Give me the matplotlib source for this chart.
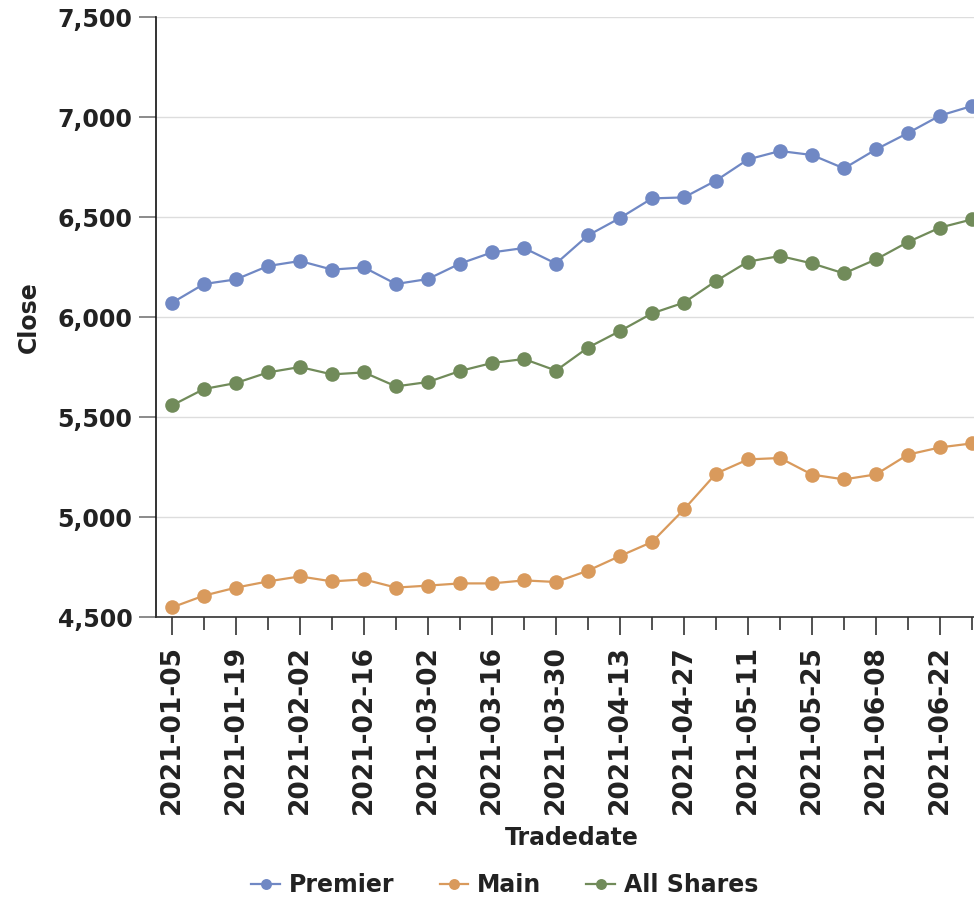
import matplotlib.pyplot as plt
import matplotlib.dates as mdates
import pandas as pd
from matplotlib.ticker import FuncFormatter

# weekly trade dates
tradedates = pd.date_range('2021-01-05', periods=26, freq='7D')

premier = [6071, 6165, 6188, 6255, 6280, 6237, 6248, 6165, 6190, 6267, 6323, 6345, 6267,
           6408, 6495, 6593, 6598, 6682, 6788, 6830, 6810, 6743, 6838, 6920, 7007, 7055]
main = [4548, 4607, 4647, 4678, 4703, 4678, 4688, 4647, 4657, 4668, 4668, 4683, 4675,
        4732, 4805, 4875, 5038, 5217, 5288, 5295, 5212, 5188, 5213, 5312, 5348, 5368]
all_shares = [5558, 5640, 5670, 5723, 5750, 5713, 5723, 5653, 5675, 5730, 5770, 5790, 5732,
              5847, 5930, 6018, 6072, 6180, 6277, 6305, 6268, 6218, 6288, 6375, 6447, 6488]

series_names = ['Premier', 'Main', 'All Shares']
colores = ['#7088c4', '#d99a5c', '#718b5a']

plt.rcParams['font.family'] = 'DejaVu Sans'
plt.rcParams['font.weight'] = 'bold'

fig = plt.figure(figsize=(9.74, 9.05), dpi=100)
ax = fig.add_axes([156 / 974, 288 / 905, 818 / 974, 600 / 905])

for valores, nombre, c in zip([premier, main, all_shares], series_names, colores):
    ax.plot(tradedates, valores, color=c, linewidth=1.6, marker='o', markersize=10.5,
            markeredgewidth=0, label=nombre, clip_on=False)

# ejes (half a week of padding on the left; the chart is cut on the right)
ax.set_ylim(4500, 7500)
ax.set_yticks(range(4500, 7501, 500))
ax.yaxis.set_major_formatter(FuncFormatter(lambda v, p: f'{int(v):,}'))
ax.set_xlim(tradedates[0] - pd.Timedelta(days=3.5),
            tradedates[0] + pd.Timedelta(days=7 * 25.0625))
ax.set_xticks(tradedates[::2])
ax.set_xticks(tradedates[1::2], minor=True)
ax.xaxis.set_major_formatter(mdates.DateFormatter('%Y-%m-%d'))

ax.grid(axis='y', color='#dddddd', linewidth=1)
ax.set_axisbelow(True)
for s in ['top', 'right']:
    ax.spines[s].set_visible(False)
ax.spines['left'].set_color('#111111')
ax.spines['bottom'].set_color('#333333')
ax.spines['left'].set_linewidth(1.2)
ax.spines['bottom'].set_linewidth(1.2)

ax.tick_params(axis='y', length=12, width=1.2, color='#777777', pad=5, labelsize=17,
               labelcolor='#222222')
ax.tick_params(axis='x', which='major', length=13, width=1.2, color='#333333', pad=7,
               labelsize=19, labelrotation=90, labelcolor='#222222')
ax.tick_params(axis='x', which='minor', length=9, width=1.2, color='#333333')

ax.set_xlabel('Tradedate', fontsize=17, fontweight='bold', color='#222222')
ax.set_ylabel('Close', fontsize=17, fontweight='bold', color='#222222')
ax.xaxis.label.set_va('center')
ax.yaxis.label.set_va('center')
ax.xaxis.set_label_coords((572 - 156) / 818, (617 - 838) / 600)
ax.yaxis.set_label_coords((29 - 156) / 818, 0.5)

# leyenda
fig.legend(loc='center', bbox_to_anchor=(505 / 974, 20 / 905), ncol=3, frameon=False,
           fontsize=17, handlelength=1.2, markerscale=0.75, columnspacing=1.9,
           handletextpad=0.4, labelcolor='#222222')

plt.savefig('out.png', dpi=100)
